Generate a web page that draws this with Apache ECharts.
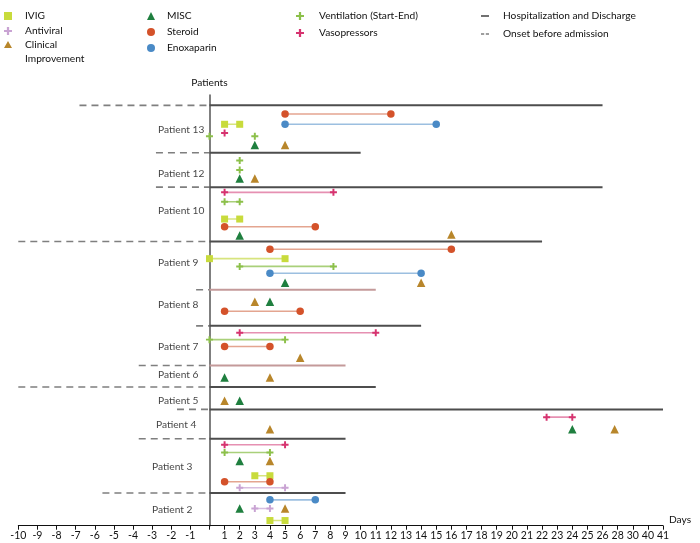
<!DOCTYPE html>
<html><head><meta charset="utf-8">
<script src="https://cdn.jsdelivr.net/npm/echarts@6/dist/echarts.min.js"></script>
<style>html,body{margin:0;padding:0;background:#fff}#c{width:700px;height:543px}</style>
</head><body><div id="c"></div>
<script>
// ---------------- DATA (days relative to admission) ----------------
const patients = ['Patient 13','Patient 12','Patient 10','Patient 9','Patient 8','Patient 7','Patient 6','Patient 5','Patient 4','Patient 3','Patient 2'];
const onsetDay = [-6.8, -2.8, -2.8, -10, -0.7, -0.7, -3.7, -10, -1.7, -3.7, -5.6];
const dischargeDay = [26, 10, 26, 22, 11, 14, 9, 11, 41, 9, 9];
const tickDays = [-10,-9,-8,-7,-6,-5,-4,-3,-2,-1,0,1,2,3,4,5,6,7,8,9,10,11,12,13,14,15,16,17,18,19,20,21,22,23,24,25,26,28,30,40,41];

// [patient, start, end]
const ivig = [['Patient 13',1,2],['Patient 10',1,2],['Patient 9',0,5],['Patient 3',3,4],['Patient 2',4,5]];
const antiviral = [['Patient 3',2,5],['Patient 2',3,4]];
const steroid = [['Patient 13',5,12],['Patient 10',1,7],['Patient 9',4,16],['Patient 8',1,6],['Patient 7',1,4],['Patient 3',1,4]];
const enoxaparin = [['Patient 13',5,15],['Patient 9',4,14],['Patient 2',4,7]];
const ventilation = [['Patient 13',0,0],['Patient 13',3,3],['Patient 12',2,2],['Patient 12',2,2],['Patient 10',1,2],['Patient 9',2,8.2],['Patient 7',0,5],['Patient 3',1,4]];
const vasopressors = [['Patient 13',1,1],['Patient 10',1,8.2],['Patient 7',2,11],['Patient 4',22.3,24],['Patient 3',1,5]];
// [patient, day]
const clinicalImprovement = [['Patient 13',5],['Patient 12',3],['Patient 10',16],['Patient 9',14],['Patient 8',3],['Patient 7',6],['Patient 6',4],['Patient 5',1],['Patient 4',4],['Patient 4',27.6],['Patient 3',4],['Patient 2',5]];
const misc = [['Patient 13',3],['Patient 12',2],['Patient 10',2],['Patient 9',5],['Patient 8',4],['Patient 6',1],['Patient 5',2],['Patient 4',24],['Patient 3',2],['Patient 2',2]];

// ---------------- LAYOUT (lanes inside each patient block) ----------------
const blockHeight = [5.5, 4, 6.3, 5.6, 4.2, 4.6, 2.5, 2.6, 3.4, 6.3, 3.8];
const labelLane = [2.8, 2.4, 2.75, 2.5, 1.75, 2.45, 1.05, 1.55, 1.8, 3.3, 1.95];
const labelDay = [-2.69,-2.69,-2.69,-2.69,-2.69,-2.69,-2.69,-2.69,-2.8,-3.0,-3.0];
const ivigLane = [2.2, 3.7, 2.0, 4.3, 3.2];
const antiviralLane = [5.7, 1.8];
const steroidLane = [1.0, 4.6, 0.9, 2.5, 2.4, 5.0];
const enoxLane = [2.2, 3.7, 0.8];
const ventLane = [3.6, 3.6, 0.9, 2.0, 1.7, 2.9, 1.6, 1.6];
const vasoLane = [3.2, 0.6, 0.8, 0.9, 0.7];
const ciLane = [4.6, 3.0, 5.5, 4.8, 1.4, 3.7, 1.4, 1.6, 2.3, 2.3, 2.6, 1.8];
const miscLane = [4.6, 3.0, 5.6, 4.8, 1.4, 1.4, 1.6, 2.3, 2.6, 1.8];
const hospColor = ['#4d4d4d','#4d4d4d','#4d4d4d','#4d4d4d','#c49a9a','#4d4d4d','#c49a9a','#4d4d4d','#4d4d4d','#4d4d4d','#4d4d4d'];

// ---------------- SCALE ----------------
const FONT = "Lato,'Liberation Sans',sans-serif";
const FS = 10.2;
const NEG = 19.12 / 15.12;
const tickPos = tickDays.map((t, i) => t < 0 ? t * NEG : i - 10);
function toAxis(d) {
  for (let i = 0; i < tickDays.length - 1; i++) {
    if (d <= tickDays[i + 1]) {
      const t0 = tickDays[i], t1 = tickDays[i + 1];
      return tickPos[i] + (d - t0) / (t1 - t0) * (tickPos[i + 1] - tickPos[i]);
    }
  }
  return tickPos[tickPos.length - 1];
}
const blockTop = [];
blockHeight.reduce((acc, h, i) => { blockTop[i] = acc; return acc + h; }, 0);
const yOf = (p, lane) => blockTop[patients.indexOf(p)] + lane;

const PLUS = 'path://M3.6,0H6.4V3.6H10V6.4H6.4V10H3.6V6.4H0V3.6H3.6Z';

function rangeSeries(name, recs, lanes, symbol, size, color, lineColor) {
  return recs.map((r, i) => {
    const y = yOf(r[0], lanes[i]);
    const pts = r[1] === r[2] ? [[toAxis(r[1]), y]] : [[toAxis(r[1]), y], [toAxis(r[2]), y]];
    return {
      type: 'line', name, data: pts, symbol, symbolSize: size, showSymbol: true,
      itemStyle: { color }, lineStyle: { color: lineColor, width: 1.6 },
      silent: true, animation: false, z: 5
    };
  });
}
function pointSeries(name, recs, lanes, symbol, size, color) {
  return {
    type: 'scatter', name, symbol, symbolSize: size, itemStyle: { color, opacity: 1 },
    data: recs.map((r, i) => [toAxis(r[1]), yOf(r[0], lanes[i])]),
    silent: true, animation: false, z: 6
  };
}

const series = [];
patients.forEach((p, i) => {
  const y = blockTop[i];
  series.push({
    type: 'line', name: 'Onset before admission', data: [[toAxis(onsetDay[i]), y], [0, y]],
    symbol: 'none', lineStyle: { color: '#7f7f7f', width: 1.6, type: [7, 5] },
    itemStyle: { color: '#7f7f7f' }, silent: true, animation: false, z: 2
  });
});
patients.forEach((p, i) => {
  const y = blockTop[i];
  series.push({
    type: 'line', name: 'Hospitalization and Discharge', data: [[0, y], [toAxis(dischargeDay[i]), y]],
    symbol: 'none', lineStyle: { color: hospColor[i], width: 2 },
    itemStyle: { color: hospColor[i] }, silent: true, animation: false, z: 2
  });
});
series.push(...rangeSeries('IVIG', ivig, ivigLane, 'rect', 7, '#c8db3c', '#d7e47e'));
series.push(...rangeSeries('Antiviral', antiviral, antiviralLane, PLUS, 7, '#c9a3d3', '#d8bde0'));
series.push(...rangeSeries('Steroid', steroid, steroidLane, 'circle', 7.5, '#d4522a', '#e4a590'));
series.push(...rangeSeries('Enoxaparin', enoxaparin, enoxLane, 'circle', 7.5, '#4a8ac6', '#9cbfe0'));
series.push(...rangeSeries('Ventilation (Start-End)', ventilation, ventLane, PLUS, 7, '#8cc04a', '#a9d07a'));
series.push(...rangeSeries('Vasopressors', vasopressors, vasoLane, PLUS, 7, '#d6336f', '#e690b2'));
series.push(pointSeries('Clinical Improvement', clinicalImprovement, ciLane, 'triangle', 8.5, '#b8862b'));
series.push(pointSeries('MISC', misc, miscLane, 'triangle', 8.5, '#1f7f3f'));
series.push({
  type: 'scatter', name: 'patients', symbolSize: 1, itemStyle: { color: 'transparent' },
  data: patients.map((p, i) => ({ value: [toAxis(labelDay[i]), blockTop[i] + labelLane[i]], name: p })),
  label: { show: true, position: 'inside', align: 'left', verticalAlign: 'middle', formatter: '{b}',
    color: '#111', fontSize: FS, fontFamily: FONT },
  silent: true, animation: false, z: 7
});

const legendText = { fontFamily: FONT, fontSize: FS, color: '#111', lineHeight: 14 };
function legend(left, top, gap, items, padLeft, extra) {
  return Object.assign({
    orient: 'vertical', left, top, itemGap: gap, itemWidth: 8, itemHeight: 8, padding: 0,
    selectedMode: false, textStyle: Object.assign({ padding: [0, 0, 0, padLeft] }, legendText),
    data: items
  }, extra || {});
}

const option = {
  backgroundColor: '#fff',
  animation: false,
  legend: [
    legend(4, 9, 1, [
      { name: 'IVIG', icon: 'rect' },
      { name: 'Antiviral', icon: PLUS }
    ], 8),
    legend(4, 38, 0, [
      { name: 'Clinical Improvement', icon: 'path://M4,0L8,7L0,7Z M0,21.9L0.05,22L0,22Z' }
    ], 8, { itemHeight: 22, formatter: () => 'Clinical\nImprovement' }),
    legend(147, 9, 2, [
      { name: 'MISC', icon: 'triangle' },
      { name: 'Steroid', icon: 'circle' },
      { name: 'Enoxaparin', icon: 'circle' }
    ], 7),
    legend(296, 9, 3, [
      { name: 'Ventilation (Start-End)', icon: PLUS },
      { name: 'Vasopressors', icon: PLUS }
    ], 10),
    legend(481, 9, 4, [
      { name: 'Hospitalization and Discharge', icon: 'path://M0,0H10V2H0Z' },
      { name: 'Onset before admission', icon: 'path://M0,0H4V2H0Z M6,0H10V2H6Z' }
    ], 9)
  ],
  grid: { left: 18.3, right: 37, top: 95, bottom: 17.3, containLabel: false, outerBoundsMode: 'none' },
  xAxis: {
    type: 'value', min: tickPos[0], max: tickPos[tickPos.length - 1],
    axisLine: { onZero: false, lineStyle: { color: '#111', width: 1 } },
    axisTick: { show: true, customValues: tickPos, length: 4, lineStyle: { color: '#111' } },
    axisLabel: {
      customValues: tickPos, margin: 4, fontSize: 10.5, color: '#111', fontFamily: FONT,
      formatter: v => {
        const i = tickPos.findIndex(p => Math.abs(p - v) < 1e-4);
        return (i < 0 || tickDays[i] === 0) ? '' : String(tickDays[i]);
      }
    },
    splitLine: { show: false },
    name: 'Days', nameLocation: 'end', nameGap: 6,
    nameTextStyle: { fontFamily: FONT, fontSize: FS, color: '#111', verticalAlign: 'bottom', lineHeight: 12 }
  },
  yAxis: {
    type: 'value', inverse: true, min: -1.2, max: 48.8,
    axisLine: { show: true, onZero: true, lineStyle: { color: '#555', width: 1.5 } },
    axisTick: { show: false }, axisLabel: { show: false }, splitLine: { show: false },
    name: 'Patients', nameLocation: 'start', nameGap: 7,
    nameTextStyle: { fontFamily: FONT, fontSize: FS, color: '#111' }
  },
  series
};

const chart = echarts.init(document.getElementById('c'), null, { renderer: 'canvas' });
chart.setOption(option);
</script></body></html>
